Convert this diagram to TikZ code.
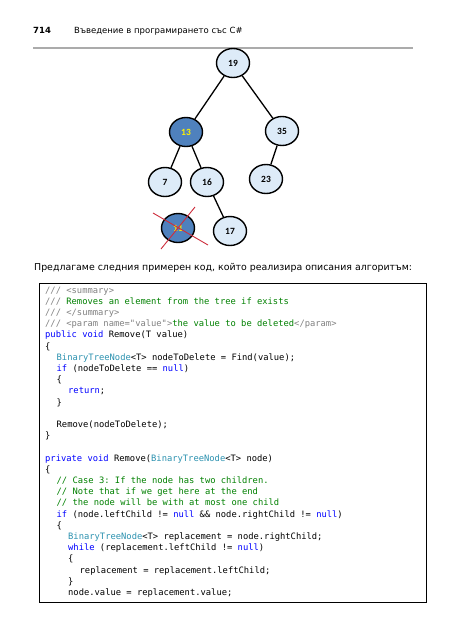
\documentclass[tikz,border=0pt]{standalone}
\usepackage{fontspec}
\setmainfont{DejaVu Sans}
\setmonofont{DejaVu Sans Mono}
\newfontfamily\nodefont{Carlito}
\usetikzlibrary{shapes.geometric}
\definecolor{lightnode}{RGB}{221,235,248}
\definecolor{darknode}{RGB}{79,129,189}
\definecolor{cgray}{RGB}{128,128,128}
\definecolor{cgreen}{RGB}{0,128,0}
\definecolor{cblue}{RGB}{0,0,255}
\definecolor{cteal}{RGB}{43,145,175}
\definecolor{xred}{RGB}{205,45,60}
\newcommand{\kw}[1]{\textcolor{cblue}{#1}}
\newcommand{\cm}[1]{\textcolor{cgreen}{#1}}
\newcommand{\gr}[1]{\textcolor{cgray}{#1}}
\newcommand{\ty}[1]{\textcolor{cteal}{#1}}
\tikzset{
  treenode/.style={ellipse, draw=black, line width=1.4pt, minimum width=33pt, minimum height=29pt, inner sep=0pt, font=\nodefont\bfseries\fontsize{9.5}{11}\selectfont},
  lightn/.style={treenode, fill=lightnode, text=black},
  darkn/.style={treenode, fill=darknode, text=yellow},
  edge/.style={line width=1.3pt, black},
  codeline/.style={anchor=base west, inner sep=0pt, font=\ttfamily\fontsize{8.8}{10}\selectfont},
  crossline/.style={xred, line width=0.9pt}
}
\begin{document}
\begin{tikzpicture}[x=1pt, y=-1pt]
\useasboundingbox (0,0) rectangle (449,640);
% header
\node[anchor=base west, inner sep=0pt, font=\bfseries\fontsize{8.5}{10}\selectfont] (pagenum) at (33,33) {714};
\node[anchor=base west, inner sep=0pt, font=\fontsize{8.5}{10}\selectfont] (title) at (74,33) {Въведение в програмирането със C\#};
\coordinate (hl) at (33,48);
\coordinate (hr) at (413,48);
\draw[line width=1.6pt, black!33] (hl) -- (hr);
% tree
\node[lightn] (n19) at (233,63) {19};
\node[darkn] (n13) at (186,132) {13};
\node[lightn] (n35) at (282,131) {35};
\node[lightn] (n7) at (165,182) {7};
\node[lightn] (n16) at (207,182) {16};
\node[lightn] (n23) at (266,179) {23};
\node[darkn] (n11) at (178,228) {11};
\node[lightn] (n17) at (230,231) {17};
\draw[edge] (n19) -- (n13);
\draw[edge] (n19) -- (n35);
\draw[edge] (n13) -- (n7);
\draw[edge] (n13) -- (n16);
\draw[edge] (n35) -- (n23);
\draw[edge] (n16) -- (n17);
\coordinate (xa1) at (153,213);
\coordinate (xa2) at (208,245);
\coordinate (xb1) at (195,207);
\coordinate (xb2) at (161,249);
\draw[crossline] (xa1) -- (xa2);
\draw[crossline] (xb1) -- (xb2);
% paragraph
\node[anchor=base west, inner sep=0pt, font=\fontsize{9.4}{11}\selectfont] (para) at (34,270) {Предлагаме следния примерен код, който реализира описания алгоритъм:};
% code box
\node[draw=black, line width=1pt, minimum width=387pt, minimum height=319pt, anchor=north west, inner sep=0pt] (box) at (39,283) {};
\def\lx{45}
\def\ind{11.5}
\def\ls{11.2}
\def\lb{293}
\node[codeline] (l0) at (\lx,\lb) {\gr{/// <summary>}};
\node[codeline] (l1) at (\lx,\lb+1*\ls) {\gr{///} \cm{Removes an element from the tree if exists}};
\node[codeline] (l2) at (\lx,\lb+2*\ls) {\gr{/// </summary>}};
\node[codeline] (l3) at (\lx,\lb+3*\ls) {\gr{/// <param name="value">}\cm{the value to be deleted}\gr{</param>}};
\node[codeline] (l4) at (\lx,\lb+4*\ls) {\kw{public} \kw{void} Remove(T value)};
\node[codeline] (l5) at (\lx,\lb+5*\ls) {\{};
\node[codeline] (l6) at (\lx+\ind,\lb+6*\ls) {\ty{BinaryTreeNode}<T> nodeToDelete = Find(value);};
\node[codeline] (l7) at (\lx+\ind,\lb+7*\ls) {\kw{if} (nodeToDelete == \kw{null})};
\node[codeline] (l8) at (\lx+\ind,\lb+8*\ls) {\{};
\node[codeline] (l9) at (\lx+2*\ind,\lb+9*\ls) {\kw{return};};
\node[codeline] (l10) at (\lx+\ind,\lb+10*\ls) {\}};
\node[codeline] (l12) at (\lx+\ind,\lb+12*\ls) {Remove(nodeToDelete);};
\node[codeline] (l13) at (\lx,\lb+13*\ls) {\}};
\node[codeline] (l15) at (\lx,\lb+15*\ls) {\kw{private} \kw{void} Remove(\ty{BinaryTreeNode}<T> node)};
\node[codeline] (l16) at (\lx,\lb+16*\ls) {\{};
\node[codeline] (l17) at (\lx+\ind,\lb+17*\ls) {\cm{// Case 3: If the node has two children.}};
\node[codeline] (l18) at (\lx+\ind,\lb+18*\ls) {\cm{// Note that if we get here at the end}};
\node[codeline] (l19) at (\lx+\ind,\lb+19*\ls) {\cm{// the node will be with at most one child}};
\node[codeline] (l20) at (\lx+\ind,\lb+20*\ls) {\kw{if} (node.leftChild != \kw{null} \&\& node.rightChild != \kw{null})};
\node[codeline] (l21) at (\lx+\ind,\lb+21*\ls) {\{};
\node[codeline] (l22) at (\lx+2*\ind,\lb+22*\ls) {\ty{BinaryTreeNode}<T> replacement = node.rightChild;};
\node[codeline] (l23) at (\lx+2*\ind,\lb+23*\ls) {\kw{while} (replacement.leftChild != \kw{null})};
\node[codeline] (l24) at (\lx+2*\ind,\lb+24*\ls) {\{};
\node[codeline] (l25) at (\lx+3*\ind,\lb+25*\ls) {replacement = replacement.leftChild;};
\node[codeline] (l26) at (\lx+2*\ind,\lb+26*\ls) {\}};
\node[codeline] (l27) at (\lx+2*\ind,\lb+27*\ls) {node.value = replacement.value;};
\end{tikzpicture}
\end{document}
